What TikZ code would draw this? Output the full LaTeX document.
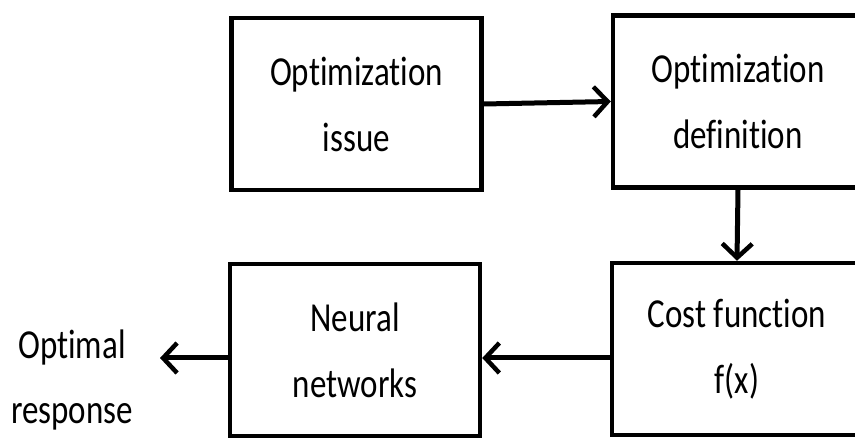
\documentclass[tikz,border=0pt]{standalone}
\usepackage{fontspec}
\setmainfont{Carlito}[Ligatures=NoCommon]
\usetikzlibrary{arrows.meta}

\newcommand{\tallline}[1]{\scalebox{1}[1.25]{#1}}

\tikzset{
	block/.style={draw, line width=4.5pt, minimum width=250pt, minimum height=172pt, align=center, font=\fontsize{33pt}{66pt}\selectfont},
	flow/.style={line width=5pt, -{Straight Barb[length=14pt, width=30pt, line width=4.5pt]}}
}

\begin{document}
\begin{tikzpicture}[x=1pt, y=1pt]
	\useasboundingbox (0,0) rectangle (855,437);
	\clip (0,0) rectangle (855,437);
	\node[block] (issue) at (356.5,333) {\tallline{Optimization}\\\tallline{issue}};
	\node[block] (definition) at (738,335.5) {\tallline{Optimization}\\\tallline{definition}};
	\node[block] (cost) at (737,88) {\tallline{Cost function}\\\tallline{f(x)}};
	\node[block] (neural) at (355,87) {\tallline{Neural}\\\tallline{networks}};
	\node[align=center, font=\fontsize{33pt}{65pt}\selectfont] (response) at (72,57) {\tallline{Optimal}\\\tallline{response}};
	\coordinate (tip) at (160,79);
	\draw[flow] (issue.east) -- (definition.west);
	\draw[flow] (definition.south) -- (cost.north);
	\draw[flow] ([yshift=-9pt]cost.west) -- ([yshift=-8pt]neural.east);
	\draw[flow] ([yshift=-8pt]neural.west) -- (tip);
\end{tikzpicture}
\end{document}
